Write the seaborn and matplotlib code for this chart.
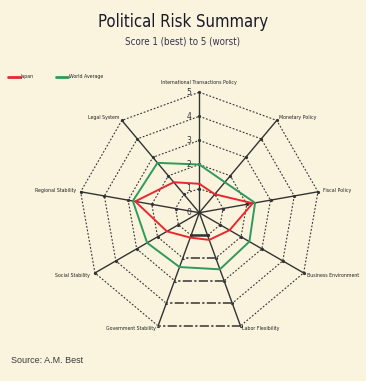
import numpy as np
import pandas as pd
import matplotlib
matplotlib.use("Agg")
import matplotlib.pyplot as plt
import seaborn as sns

# ---------------- data ----------------
categories = ["International Transactions Policy", "Monetary Policy", "Fiscal Policy",
              "Business Environment", "Labor Flexibility", "Government Stability",
              "Social Stability", "Regional Stability", "Legal System"]
japan = [1.2, 1.0, 2.25, 1.45, 1.2, 1.1, 1.55, 2.7, 1.65]
world = [2.0, 1.65, 2.35, 2.4, 2.5, 2.4, 2.5, 2.8, 2.7]
series_names = ["Japan", "World Average"]
tick_values = [0, 1, 2, 3, 4, 5]
title = "Political Risk Summary"
subtitle = "Score 1 (best) to 5 (worst)"
source = "Source: A.M. Best"

# ---------------- style ----------------
sns.set_theme(style="white")
plt.rcParams['font.family'] = ['DejaVu Sans']

BG = "#FAF4DF"
RED = "#E8282C"
GREEN = "#2E9A5C"
GRID = "#333333"

W, H = 366, 381
fig = plt.figure(figsize=(W / 100, H / 100), dpi=100, facecolor=BG)
ax = fig.add_axes([0, 0, 1, 1])
ax.set_facecolor(BG)

U = 24.1            # pixels per score unit
CX, CY = 199.3, 212.7
ax.set_xlim(-CX / U, (W - CX) / U)
ax.set_ylim((CY - H) / U, CY / U)
ax.axis('off')

def px(dx):
    return dx / U

n = len(categories)
ang = np.deg2rad(np.arange(n) * 360.0 / n)
sx, cy = np.sin(ang), np.cos(ang)
rmax = max(tick_values)

# dotted nonagon rings
for r in tick_values[1:]:
    xs = np.append(r * sx, r * sx[0])
    ys = np.append(r * cy, r * cy[0])
    ax.plot(xs, ys, color=GRID, lw=0.8, ls=(0, (1.6, 1.6)), zorder=1)
    ax.plot(r * sx, r * cy, 'o', color=GRID, ms=1.3, zorder=1)
    # the segment between Labor Flexibility and Government Stability is drawn heavier
    seg_x = [r * sx[4], r * sx[5]]
    seg_y = [r * cy[4], r * cy[5]]
    if r == 1:
        ax.plot(seg_x, seg_y, color=GRID, lw=1.8, zorder=1.5)
    else:
        ax.plot(seg_x, seg_y, color=BG, lw=1.4, zorder=1.2)
        ax.plot(seg_x, seg_y, color=GRID, lw=1.1, ls=(0, (6, 1.5, 1.5, 1.5)), zorder=1.5)

# spokes
for i in range(n):
    ax.plot([0, rmax * sx[i]], [0, rmax * cy[i]], color=GRID, lw=1.0, zorder=2)

# data polygons
rows = []
for name, vals in zip(series_names, [japan, world]):
    for k in list(range(n)) + [0]:
        rows.append({"series": name, "x": vals[k] * sx[k], "y": vals[k] * cy[k]})
df = pd.DataFrame(rows)
sns.lineplot(data=df, x="x", y="y", hue="series", palette=[RED, GREEN],
             sort=False, estimator=None, legend=False, lw=1.4, ax=ax, zorder=3)

# scale labels on the top spoke
for t in tick_values:
    ax.text(px(-8.3), t, str(t), ha='right', va='center', fontsize=5.5,
            color="#333333", zorder=4)

# category labels
offsets = [
    (0, -10, 'center', 'center'),
    (2, -3, 'left', 'center'),
    (5, -1, 'left', 'center'),
    (3, 3, 'left', 'center'),
    (1, 3, 'left', 'center'),
    (-2, 3, 'right', 'center'),
    (-5, 3, 'right', 'center'),
    (-5, -1, 'right', 'center'),
    (-2, -3, 'right', 'center'),
]
for i, lab in enumerate(categories):
    dx, dy, ha, va = offsets[i]
    ax.text(rmax * sx[i] + px(dx), rmax * cy[i] - px(dy), lab, ha=ha, va=va,
            fontsize=3.8, color="#222222", fontstretch='condensed')

def X(p):
    return (p - CX) / U

def Y(p):
    return (CY - p) / U

# legend
leg = [(8.3, 20.0, RED, series_names[0]), (56.0, 68.0, GREEN, series_names[1])]
for x0, x1, c, name in leg:
    ax.plot([X(x0), X(x1)], [Y(76.7), Y(76.7)], color=c, lw=2.0)
    ax.text(X(x1 + 0.5), Y(76.7), name, ha='left', va='center', fontsize=3.8,
            color="#222222", fontstretch='condensed')

# titles and source
fig.text(183 / W, 1 - 26.7 / H, title, ha='center', va='baseline',
         fontsize=12, color="#1A1A28", fontstretch='condensed', fontweight='medium')
fig.text(183 / W, 1 - 44 / H, subtitle, ha='center', va='baseline',
         fontsize=7.0, color="#33334F", fontstretch='condensed')
fig.text(11 / W, 1 - 363 / H, source, ha='left', va='baseline',
         fontsize=6.5, color="#3A3A3A", family=['Liberation Sans', 'DejaVu Sans'])

fig.savefig("out.png", dpi=100, facecolor=BG)
